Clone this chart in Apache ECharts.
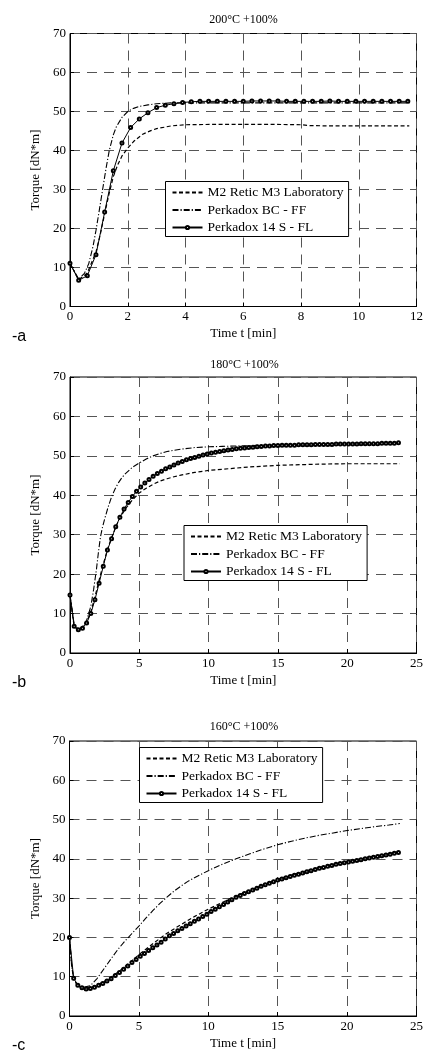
<!DOCTYPE html>
<html>
<head>
<meta charset="utf-8">
<script src="https://cdn.jsdelivr.net/npm/echarts@6/dist/echarts.min.js"></script>
<style>
html,body{margin:0;padding:0;background:#fff;}
#chart{width:426px;height:1051px;}
</style>
</head>
<body>
<div id="chart"></div>
<script>
// ---------- data ----------
const seriesNames = ['M2 Retic M3 Laboratory', 'Perkadox BC - FF', 'Perkadox 14 S - FL'];
const panelTitles = ['200°C +100%', '180°C +100%', '160°C +100%'];
const panelLabels = ['-a', '-b', '-c'];
const yAxisName = 'Torque [dN*m]';
const xAxisName = 'Time t [min]';
const xMax = [12, 25, 25];
const xInterval = [2, 5, 5];

// Panel a: 200°C
const a_M2 = [[0,11.1],[0.3,6.8],[0.6,8.6],[0.9,14],[1.05,18.5],[1.2,23.8],[1.35,28.8],[1.5,33.3],[1.65,36.3],[1.8,38.6],[2.0,40.6],[2.2,42.3],[2.5,44.1],[2.8,45.1],[3.0,45.6],[3.5,46.3],[4,46.6],[5,46.7],[6,46.7],[7,46.7],[8,46.6],[8.3,46.4],[9,46.3],[10,46.3],[11,46.3],[11.75,46.3]];
const a_BC = [[0,11.1],[0.3,7.0],[0.5,8.5],[0.65,11],[0.8,15.5],[0.9,19.5],[1.0,24],[1.13,30],[1.25,35.5],[1.36,40],[1.5,44],[1.6,46],[1.8,48.5],[2.0,50],[2.2,50.8],[2.4,51.3],[2.7,51.7],[3.0,52.0],[3.5,52.2],[4,52.2],[5,52.2],[6,52.2],[7,52.2],[8,52.2],[9,52.2],[10,52.2],[11,52.2],[11.75,52.2]];
const a_14S = [[0,11.1],[0.3,6.7],[0.6,7.9],[0.9,13.3],[1.2,24.2],[1.5,34.8],[1.8,41.9],[2.1,45.9],[2.4,48.1],[2.7,49.7],[3.0,51.0],[3.3,51.6],[3.6,52.0],[3.9,52.3],[4.2,52.5],[4.5,52.6],[4.8,52.6],[5.1,52.6],[5.4,52.6],[5.7,52.6],[6.0,52.6],[6.3,52.7],[6.6,52.7],[6.9,52.7],[7.2,52.7],[7.5,52.6],[7.8,52.6],[8.1,52.6],[8.4,52.6],[8.7,52.6],[9.0,52.7],[9.3,52.6],[9.6,52.6],[9.9,52.6],[10.2,52.6],[10.5,52.6],[10.8,52.6],[11.1,52.6],[11.4,52.6],[11.7,52.6]];

// Panel b: 180°C
const b_M2 = [[0,14.7],[0.3,6.7],[0.6,5.9],[0.9,6.4],[1.2,7.9],[1.5,10.4],[1.8,14.2],[2.1,18.5],[2.4,22.5],[2.7,26.2],[3.0,29.3],[3.5,33.6],[4.0,36.6],[4.5,38.8],[5.0,40.6],[5.5,41.8],[6,42.8],[6.5,43.6],[7,44.2],[7.5,44.7],[8,45.1],[9,45.8],[10,46.3],[11,46.6],[12,46.9],[13,47.2],[14,47.4],[15,47.6],[16,47.7],[17,47.8],[18,47.9],[20,48.0],[22,48.0],[23.8,48.0]];
const b_BC = [[0,14.7],[0.3,7.2],[0.6,6.0],[0.9,6.6],[1.2,8.3],[1.5,11.8],[1.7,16],[1.9,21],[2.05,25.5],[2.2,29.5],[2.35,32],[2.5,34],[2.75,37],[3.0,39.6],[3.25,41.6],[3.5,43.2],[3.75,44.5],[4.0,45.5],[4.5,47.1],[5,48.2],[5.5,49.2],[6,50.0],[6.5,50.6],[7,51.1],[7.5,51.4],[8,51.7],[9,52.1],[10,52.3],[11,52.4],[12,52.5],[13,52.6],[14,52.7],[16,52.8],[18,52.9],[20,53.0],[22,53.1],[23.8,53.2]];
const b_14S = [[0,14.7],[0.3,6.8],[0.6,5.9],[0.9,6.3],[1.2,7.6],[1.5,10.0],[1.8,13.5],[2.1,17.7],[2.4,22.0],[2.7,26.1],[3.0,29.0],[3.3,32.0],[3.6,34.4],[3.9,36.5],[4.2,38.2],[4.5,39.7],[4.8,41.0],[5.1,42.1],[5.4,43.1],[5.7,44.0],[6.0,44.8],[6.3,45.5],[6.6,46.1],[6.9,46.7],[7.2,47.2],[7.5,47.7],[7.8,48.2],[8.1,48.6],[8.4,49.0],[8.7,49.3],[9.0,49.6],[9.3,49.9],[9.6,50.2],[9.9,50.5],[10.2,50.7],[10.5,50.9],[10.8,51.1],[11.1,51.3],[11.4,51.5],[11.7,51.6],[12.0,51.8],[12.3,51.9],[12.6,52.0],[12.9,52.1],[13.2,52.2],[13.5,52.3],[13.8,52.4],[14.1,52.5],[14.4,52.5],[14.7,52.6],[15.0,52.6],[15.3,52.7],[15.6,52.7],[15.9,52.7],[16.2,52.7],[16.5,52.8],[16.8,52.8],[17.1,52.8],[17.4,52.8],[17.7,52.9],[18.0,52.9],[18.3,52.9],[18.6,52.9],[18.9,52.9],[19.2,53.0],[19.5,53.0],[19.8,53.0],[20.1,53.0],[20.4,53.0],[20.7,53.0],[21.0,53.1],[21.3,53.1],[21.6,53.1],[21.9,53.1],[22.2,53.1],[22.5,53.2],[22.8,53.2],[23.1,53.2],[23.4,53.2],[23.7,53.3]];

// Panel c: 160°C
const c_M2 = [[0,20],[0.15,13],[0.3,9.3],[0.6,7.6],[1.0,7.0],[1.5,7.1],[2.0,7.9],[2.5,8.8],[3,9.9],[3.5,11.2],[4,12.6],[4.5,14.1],[5,15.6],[5.5,17.0],[6,18.4],[6.5,19.7],[7,21.0],[7.5,22.1],[8,23.2],[9,25.3],[10,27.2],[11,28.9],[12,30.6],[13,32.0],[14,33.4],[15,34.8],[16,35.9],[17,36.9],[18,37.8],[19,38.6],[20,39.3],[21,40.0],[22,40.7],[23,41.3],[23.8,41.8]];
const c_BC = [[0,20],[0.15,13],[0.3,9.5],[0.6,7.9],[1.0,7.3],[1.5,7.7],[2.0,9.6],[2.5,12.1],[3.0,14.6],[3.5,17.0],[4.0,19.1],[4.5,21.0],[5,22.9],[5.5,24.9],[6,26.8],[6.5,28.6],[7,30.2],[7.5,31.7],[8,33.0],[8.5,34.2],[9,35.2],[9.5,36.1],[10,37.0],[11,38.6],[12,40.0],[13,41.3],[14,42.5],[15,43.6],[16,44.5],[17,45.3],[18,46.0],[19,46.6],[20,47.2],[21,47.7],[22,48.2],[23,48.6],[23.8,49.0]];
const c_14S = [[0,20.0],[0.3,9.6],[0.6,7.8],[0.9,7.2],[1.2,6.9],[1.5,7.0],[1.8,7.3],[2.1,7.8],[2.4,8.3],[2.7,8.9],[3.0,9.5],[3.3,10.3],[3.6,11.1],[3.9,11.9],[4.2,12.7],[4.5,13.6],[4.8,14.4],[5.1,15.2],[5.4,15.9],[5.7,16.7],[6.0,17.4],[6.3,18.1],[6.6,18.8],[6.9,19.6],[7.2,20.4],[7.5,21.0],[7.8,21.7],[8.1,22.3],[8.4,22.9],[8.7,23.5],[9.0,24.1],[9.3,24.7],[9.6,25.3],[9.9,25.9],[10.2,26.6],[10.5,27.2],[10.8,27.8],[11.1,28.4],[11.4,29.0],[11.7,29.6],[12.0,30.2],[12.3,30.7],[12.6,31.2],[12.9,31.6],[13.2,32.1],[13.5,32.5],[13.8,33.0],[14.1,33.4],[14.4,33.8],[14.7,34.2],[15.0,34.6],[15.3,34.9],[15.6,35.2],[15.9,35.5],[16.2,35.8],[16.5,36.1],[16.8,36.4],[17.1,36.7],[17.4,37.0],[17.7,37.3],[18.0,37.6],[18.3,37.8],[18.6,38.1],[18.9,38.3],[19.2,38.6],[19.5,38.8],[19.8,39.0],[20.1,39.2],[20.4,39.4],[20.7,39.6],[21.0,39.8],[21.3,40.0],[21.6,40.2],[21.9,40.4],[22.2,40.6],[22.5,40.8],[22.8,41.0],[23.1,41.2],[23.4,41.4],[23.7,41.6]];

const panelData = [[a_M2, a_BC, a_14S], [b_M2, b_BC, b_14S], [c_M2, c_BC, c_14S]];

// ---------- layout / style ----------
const SERIF = '"Liberation Serif", "Times New Roman", serif';
const grids = [
  {left: 70, top: 33.5, width: 347, height: 273},
  {left: 70, top: 377, width: 349, height: 276},
  {left: 69.5, top: 741, width: 349, height: 275}
];
const legendPos = [
  {left: 165.5, top: 181.5},
  {left: 184, top: 525.5},
  {left: 139.5, top: 747.5}
];
const titleY = [20, 365, 727];
const labelY = [337, 683, 1046];

const lineStyles = [
  {color: '#000', width: 1.2, type: [4, 2.5]},
  {color: '#000', width: 1.1, type: [6, 2, 1.2, 2]},
  {color: '#000', width: 1.0, type: 'solid'}
];

const option = {
  animation: false,
  backgroundColor: '#fff',
  grid: grids.map(g => Object.assign({show: true, borderColor: '#000', borderWidth: 1, backgroundColor: 'transparent'}, g)),
  xAxis: grids.map((g, i) => ({
    type: 'value', gridIndex: i, min: 0, max: xMax[i], interval: xInterval[i],
    name: xAxisName, nameLocation: 'middle', nameGap: 21,
    nameTextStyle: {fontFamily: SERIF, fontSize: 13, color: '#000'},
    axisLine: {show: true, lineStyle: {color: '#000', width: 1}},
    axisTick: {show: true, inside: true, length: 4, lineStyle: {color: '#000'}},
    axisLabel: {fontFamily: SERIF, fontSize: 13, color: '#000', margin: 4},
    splitLine: {show: true, lineStyle: {color: '#555', width: 1, type: [10, 7]}}
  })),
  yAxis: grids.map((g, i) => ({
    type: 'value', gridIndex: i, min: 0, max: 70, interval: 10,
    name: yAxisName, nameLocation: 'middle', nameGap: 20, nameRotate: 90,
    nameTextStyle: {fontFamily: SERIF, fontSize: 13, color: '#000'},
    axisLine: {show: true, lineStyle: {color: '#000', width: 1}},
    axisTick: {show: true, inside: true, length: 4, lineStyle: {color: '#000'}},
    axisLabel: {fontFamily: SERIF, fontSize: 13, color: '#000', margin: 4},
    splitLine: {show: true, lineStyle: {color: '#555', width: 1, type: [10, 7]}}
  })),
  legend: legendPos.map(p => ({
    show: true, orient: 'vertical', left: p.left, top: p.top,
    data: [
      {name: seriesNames[0], itemStyle: {opacity: 0, borderWidth: 0}},
      {name: seriesNames[1], itemStyle: {opacity: 0, borderWidth: 0}},
      {name: seriesNames[2]}
    ],
    backgroundColor: '#fff', borderColor: '#000', borderWidth: 1, borderRadius: 0,
    padding: [4, 5, 2, 6],
    itemWidth: 30, itemHeight: 4, itemGap: 3.5,
    textStyle: {fontFamily: SERIF, fontSize: 13.5, color: '#000', lineHeight: 14},
    selectedMode: false
  })),
  graphic: [],
  series: []
};

panelData.forEach((sets, i) => {
  sets.forEach((data, k) => {
    const is14 = k === 2;
    option.series.push({
      type: 'line', name: seriesNames[k], xAxisIndex: i, yAxisIndex: i,
      data: data,
      smooth: false,
      symbol: is14 ? 'emptyCircle' : 'none',
      symbolSize: 3,
      showSymbol: is14,
      lineStyle: lineStyles[k],
      itemStyle: {color: '#000', borderColor: '#000', borderWidth: 0.6},
      emphasis: {disabled: true},
      z: 3 + k
    });
  });
  const g = grids[i];
  option.graphic.push({
    type: 'text', x: g.left + g.width / 2, y: titleY[i],
    style: {text: panelTitles[i], font: '12px ' + SERIF, fill: '#000', align: 'center', verticalAlign: 'middle'}
  });
  option.graphic.push({
    type: 'text', x: 12, y: labelY[i],
    style: {text: panelLabels[i], font: '16px "Liberation Sans", Arial, sans-serif', fill: '#000', align: 'left', verticalAlign: 'middle'}
  });
});

const chart = echarts.init(document.getElementById('chart'), null, {renderer: 'canvas'});
chart.setOption(option);
</script>
</body>
</html>
